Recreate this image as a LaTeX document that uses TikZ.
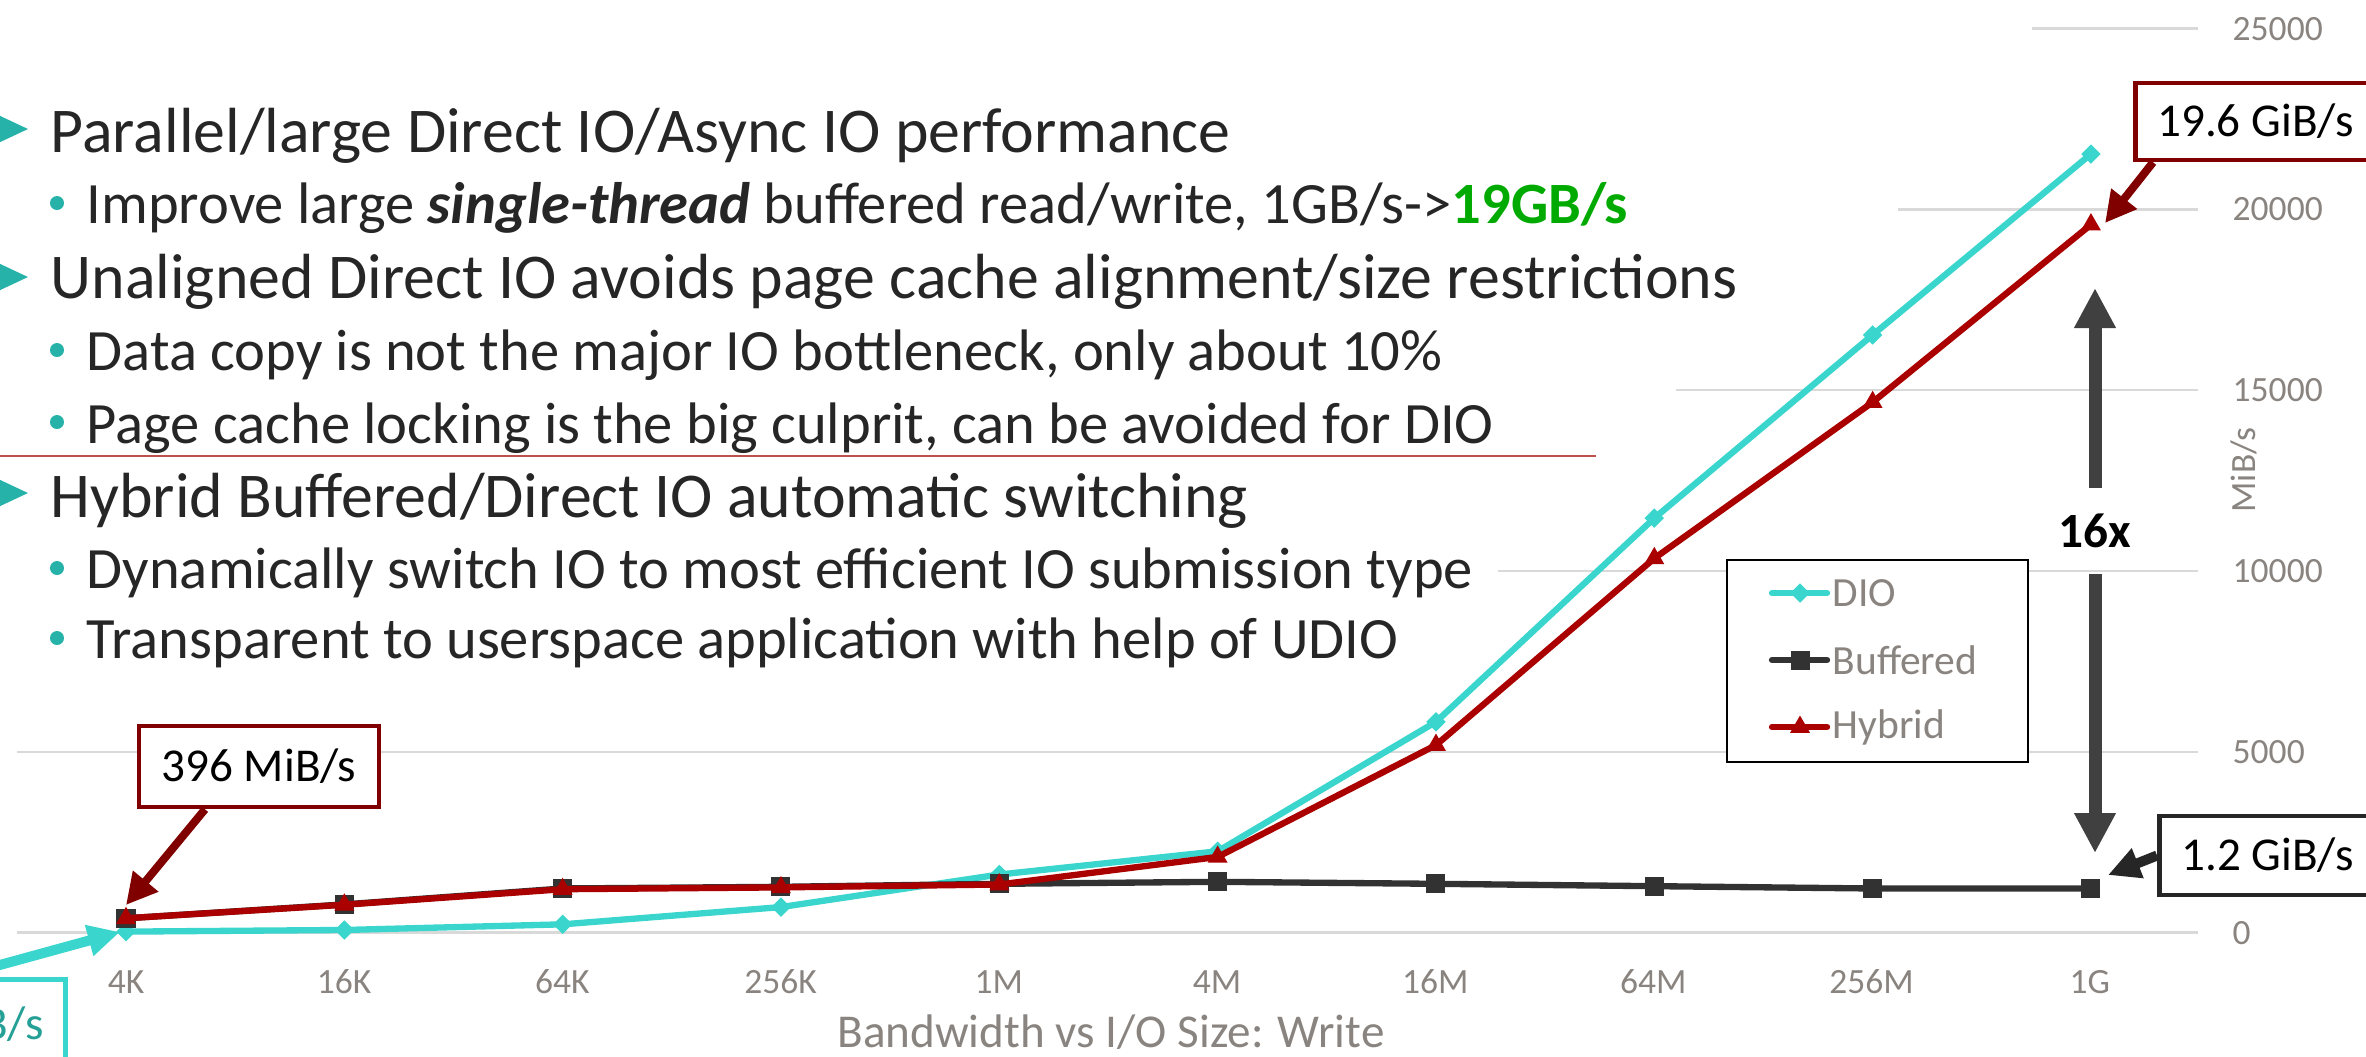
\documentclass[tikz,border=0pt]{standalone}
\usepackage{fontspec}
\setmainfont{Carlito}
\usetikzlibrary{arrows.meta,shapes.geometric}
\definecolor{diocyan}{RGB}{58,214,206}
\definecolor{hybred}{RGB}{170,0,0}
\definecolor{bufgray}{RGB}{50,50,50}
\definecolor{notered}{RGB}{128,0,0}
\definecolor{notegray}{RGB}{38,38,38}
\definecolor{arrowgray}{RGB}{64,64,64}
\definecolor{gridgray}{RGB}{217,217,217}
\definecolor{axisgray}{RGB}{137,132,127}
\definecolor{textgray}{RGB}{38,38,38}
\definecolor{bullteal}{RGB}{38,178,168}
\definecolor{sepred}{RGB}{192,80,77}
\definecolor{labteal}{RGB}{36,160,150}
\definecolor{goodgreen}{RGB}{0,170,0}

\begin{document}
\begin{tikzpicture}[x=0.01cm,y=-0.01cm,
    bigtext/.style={anchor=base west,inner sep=0,text=textgray,font=\fontsize{18.15pt}{21pt}\selectfont},
    subtext/.style={anchor=base west,inner sep=0,text=textgray,font=\fontsize{16.65pt}{20pt}\selectfont},
    grid line/.style={gridgray,line width=0.7pt},
    tick label/.style={text=axisgray,inner sep=0,font=\fontsize{10.1pt}{12pt}\selectfont},
    dio line/.style={diocyan,line width=1.8pt,line join=round},
    buf line/.style={bufgray,line width=1.8pt,line join=round},
    hyb line/.style={hybred,line width=1.8pt,line join=round},
    dio mark/.style={diamond,fill=diocyan,inner sep=0,minimum width=0.2cm,minimum height=0.2cm},
    buf mark/.style={rectangle,fill=bufgray,inner sep=0,minimum size=0.19cm},
    hyb mark/.style={regular polygon,regular polygon sides=3,fill=hybred,inner sep=0,minimum size=0.23cm},
    legend text/.style={anchor=west,inner sep=0,text=axisgray,font=\fontsize{11.8pt}{14pt}\selectfont},
    note box/.style={draw=notered,line width=1.3pt,fill=white,text=black,inner xsep=0.22cm,inner ysep=0,font=\fontsize{13.4pt}{16pt}\selectfont},
    note arrow/.style={notered,line width=0.08cm,-{Triangle[width=0.31cm,length=0.31cm]}},
    dark arrow/.style={notegray,line width=0.1cm,-{Triangle[width=0.3cm,length=0.32cm]}},
    dio arrow/.style={diocyan,line width=0.1cm,-{Triangle[width=0.3cm,length=0.32cm]}},
    gain arrow/.style={arrowgray,line width=0.13cm,-{Triangle[width=0.39cm,length=0.4cm]}}]
\useasboundingbox (0,0) rectangle (2366,1056);
\clip (0,0) rectangle (2366,1056);

% grid and value axis
\foreach \k/\xs/\lab in {0/17/0,5/17/5000,10/1498/10000,15/1676/15000,20/1898/20000,25/2032/25000} {
    \draw[grid line] (\xs,{932.6-36.16*\k}) -- (2198,{932.6-36.16*\k});
    \node[tick label,anchor=west] at (2232,{932.6-36.16*\k}) {\lab};
}
\node[tick label,rotate=90] (unit) at (2244,470) {MiB/s};

% size axis
\foreach \lab [count=\i from 0] in {4K,16K,64K,256K,1M,4M,16M,64M,256M,1G}
    \node[tick label,anchor=base] at ({126+218.2*\i},993) {\lab};
\node[tick label,anchor=base,font=\fontsize{13.4pt}{16pt}\selectfont] (xtitle) at (1111,1047) {Bandwidth vs I/O Size: Write};

% bullet text
\draw[sepred,line width=0.7pt] (0,456) -- (1596,456);
\foreach \yc in {129,277,493}
    \fill[bullteal] (-4,\yc-15) -- (28,\yc) -- (-4,\yc+15) -- cycle;
\foreach \yc in {203,350,422,568,638}
    \fill[bullteal] (57,\yc) circle[radius=0.07cm];
\node[bigtext] (par) at (50,152) {Parallel/large Direct IO/Async IO performance};
\node[subtext] (single) at (86,223) {Improve large \textbf{\textit{single-thread}} buffered read/write, 1GB/s->\textbf{\color{goodgreen}19GB/s}};
\node[bigtext] (unal) at (50,298) {Unaligned Direct IO avoids page cache alignment/size restrictions};
\node[subtext] (copy) at (86,370) {Data copy is not the major IO bottleneck, only about 10\%};
\node[subtext] (lock) at (86,443) {Page cache locking is the big culprit, can be avoided for DIO};
\node[bigtext] (hyb) at (50,517) {Hybrid Buffered/Direct IO automatic switching};
\node[subtext] (switch) at (86,588) {Dynamically switch IO to most efficient IO submission type};
\node[subtext] (udio) at (86,658) {Transparent to userspace application with help of UDIO};

% series
\begin{scope}[shift={(126,932.6)},x=2.182cm,y=0.3616cm]
    \foreach \v [count=\i from 0] in {0.028,0.073,0.229,0.706,1.606,2.248,5.826,11.456,16.519,21.519}
        \coordinate (dio\i) at (\i,\v);
    \foreach \v [count=\i from 0] in {0.396,0.780,1.220,1.266,1.349,1.404,1.349,1.284,1.220,1.220}
        \coordinate (buf\i) at (\i,\v);
    \foreach \v [count=\i from 0] in {0.396,0.770,1.200,1.250,1.330,2.092,5.183,10.344,14.659,19.568}
        \coordinate (hyb\i) at (\i,\v);
\end{scope}
\draw[dio line] (dio0) \foreach \i in {1,...,9} { -- (dio\i) };
\foreach \i in {0,...,9} \node[dio mark] at (dio\i) {};
\draw[buf line] (buf0) \foreach \i in {1,...,9} { -- (buf\i) };
\foreach \i in {0,...,9} \node[buf mark] at (buf\i) {};
\draw[hyb line] (hyb0) \foreach \i in {1,...,9} { -- (hyb\i) };
\foreach \i in {0,...,9} \node[hyb mark] at (hyb\i) {};

% legend
\node[draw=black,line width=0.7pt,fill=white,minimum width=3.01cm,minimum height=2.02cm] (legend) at (1877.5,661) {};
\draw[dio line,line cap=round] (1772,593) -- (1827,593);
\node[dio mark] at (1800,593) {};
\node[legend text] (ldio) at (1832,593) {DIO};
\draw[buf line,line cap=round] (1772,660) -- (1827,660);
\node[buf mark] at (1800,660) {};
\node[legend text] (lbuf) at (1832,660) {Buffered};
\draw[hyb line,line cap=round] (1772,727) -- (1827,727);
\node[hyb mark] at (1800,727) {};
\node[legend text] (lhyb) at (1832,727) {Hybrid};

% callouts
\node[note box,anchor=west,minimum height=0.77cm] (note19) at (2133,121.5) {\makebox[2.4cm][l]{19.6 GiB/s}};
\coordinate (tip19) at (2105,223);
\draw[note arrow] ([xshift=0.2cm]note19.south west) -- (tip19);

\node[note box,draw=notegray,anchor=west,minimum height=0.79cm] (note12) at (2157,855.5) {\makebox[2.4cm][l]{1.2 GiB/s}};
\coordinate (tip12) at (2108,875);
\draw[dark arrow] (note12.west) -- (tip12);

\node[note box,minimum width=2.4cm,minimum height=0.81cm] (note396) at (259,766.5) {396 MiB/s};
\coordinate (tip396) at (126,905);
\draw[note arrow] ([xshift=-0.54cm]note396.south) -- (tip396);

\node[note box,draw=diocyan,text=labteal,anchor=north east,minimum height=0.9cm] (notedio) at (68,977) {B/s};
\coordinate (diostart) at (-44,977);
\coordinate (tipdio) at (120,932);
\draw[dio arrow] (diostart) -- (tipdio);

% gain arrow
\node[inner sep=0,minimum height=0.84cm,font=\bfseries\fontsize{14pt}{17pt}\selectfont] (gain) at (2095,531) {16x};
\coordinate (gaintop) at (2095,288);
\coordinate (gainbot) at (2095,853);
\draw[gain arrow] (gain.north) -- (gaintop);
\draw[gain arrow] (gain.south) -- (gainbot);
\end{tikzpicture}
\end{document}
